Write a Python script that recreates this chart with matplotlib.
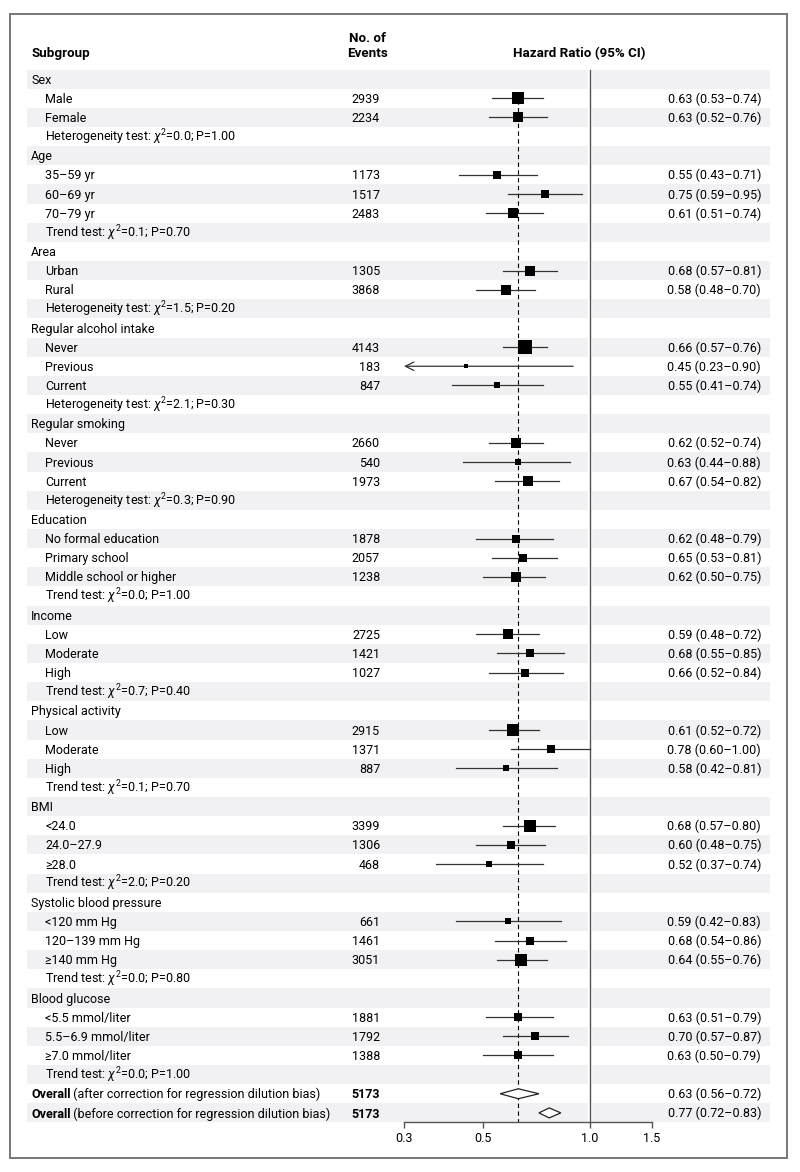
import numpy as np
import matplotlib
matplotlib.use("Agg")
import matplotlib.pyplot as plt
from matplotlib.patches import Rectangle, Polygon

FONT = 'Roboto'
plt.rcParams['font.family'] = [FONT, 'DejaVu Sans']
plt.rcParams['mathtext.fontset'] = 'custom'
plt.rcParams['mathtext.rm'] = FONT
plt.rcParams['mathtext.it'] = FONT + ':italic'
plt.rcParams['mathtext.bf'] = FONT + ':bold'

# ---- data ----
group_names = ['Sex', 'Age', 'Area', 'Regular alcohol intake', 'Regular smoking',
               'Education', 'Income', 'Physical activity', 'BMI',
               'Systolic blood pressure', 'Blood glucose']
sub_labels = [
    ['Male', 'Female'],
    ['35\u201359 yr', '60\u201369 yr', '70\u201379 yr'],
    ['Urban', 'Rural'],
    ['Never', 'Previous', 'Current'],
    ['Never', 'Previous', 'Current'],
    ['No formal education', 'Primary school', 'Middle school or higher'],
    ['Low', 'Moderate', 'High'],
    ['Low', 'Moderate', 'High'],
    ['<24.0', '24.0\u201327.9', '\u226528.0'],
    ['<120 mm Hg', '120\u2013139 mm Hg', '\u2265140 mm Hg'],
    ['<5.5 mmol/liter', '5.5\u20136.9 mmol/liter', '\u22657.0 mmol/liter'],
]
events = [
    [2939, 2234], [1173, 1517, 2483], [1305, 3868], [4143, 183, 847],
    [2660, 540, 1973], [1878, 2057, 1238], [2725, 1421, 1027],
    [2915, 1371, 887], [3399, 1306, 468], [661, 1461, 3051], [1881, 1792, 1388],
]
hr = [
    [0.63, 0.63], [0.55, 0.75, 0.61], [0.68, 0.58], [0.66, 0.45, 0.55],
    [0.62, 0.63, 0.67], [0.62, 0.65, 0.62], [0.59, 0.68, 0.66],
    [0.61, 0.78, 0.58], [0.68, 0.60, 0.52], [0.59, 0.68, 0.64], [0.63, 0.70, 0.63],
]
ci_lo = [
    [0.53, 0.52], [0.43, 0.59, 0.51], [0.57, 0.48], [0.57, 0.23, 0.41],
    [0.52, 0.44, 0.54], [0.48, 0.53, 0.50], [0.48, 0.55, 0.52],
    [0.52, 0.60, 0.42], [0.57, 0.48, 0.37], [0.42, 0.54, 0.55], [0.51, 0.57, 0.50],
]
ci_hi = [
    [0.74, 0.76], [0.71, 0.95, 0.74], [0.81, 0.70], [0.76, 0.90, 0.74],
    [0.74, 0.88, 0.82], [0.79, 0.81, 0.75], [0.72, 0.85, 0.84],
    [0.72, 1.00, 0.81], [0.80, 0.75, 0.74], [0.83, 0.86, 0.76], [0.79, 0.87, 0.79],
]
tests = [
    'Heterogeneity test: $\\chi^2$=0.0; P=1.00',
    'Trend test: $\\chi^2$=0.1; P=0.70',
    'Heterogeneity test: $\\chi^2$=1.5; P=0.20',
    'Heterogeneity test: $\\chi^2$=2.1; P=0.30',
    'Heterogeneity test: $\\chi^2$=0.3; P=0.90',
    'Trend test: $\\chi^2$=0.0; P=1.00',
    'Trend test: $\\chi^2$=0.7; P=0.40',
    'Trend test: $\\chi^2$=0.1; P=0.70',
    'Trend test: $\\chi^2$=2.0; P=0.20',
    'Trend test: $\\chi^2$=0.0; P=0.80',
    'Trend test: $\\chi^2$=0.0; P=1.00',
]
overall_notes = ['(after correction for regression dilution bias)',
                 '(before correction for regression dilution bias)']
overall_events = [5173, 5173]
overall_hr = [0.63, 0.77]
overall_lo = [0.56, 0.72]
overall_hi = [0.72, 0.83]
xticks = [0.3, 0.5, 1.0, 1.5]

# ---- build rows ----
rows = []  # (kind, label, n, hr, lo, hi)
for g, name in enumerate(group_names):
    rows.append(('group', name, None, None, None, None))
    for k, lab in enumerate(sub_labels[g]):
        rows.append(('item', lab, events[g][k], hr[g][k], ci_lo[g][k], ci_hi[g][k]))
    rows.append(('test', tests[g], None, None, None, None))
for k in range(2):
    rows.append(('overall', overall_notes[k], overall_events[k],
                 overall_hr[k], overall_lo[k], overall_hi[k]))
N = len(rows)

W, H = 800, 1172
TOP = 69.5
RH = 19.145
FS = 9.0
BAND = '#f1f1f3'
LINE = '#333333'

fig = plt.figure(figsize=(W / 100, H / 100), dpi=100)
bg = fig.add_axes([0, 0, 1, 1])
bg.set_xlim(0, W)
bg.set_ylim(H, 0)
bg.axis('off')

def row_y(i):
    return TOP + (i + 0.5) * RH

# frame
bg.add_patch(Rectangle((10, 14), 777, 1144, fill=False, ec='#777777', lw=1.4))

# header
HFS = FS + 0.6
bg.text(31, 57, 'Subgroup', fontsize=HFS, fontweight='bold', va='baseline')
bg.text(367, 42, 'No. of', fontsize=HFS, fontweight='bold', va='baseline', ha='center')
bg.text(367, 57, 'Events', fontsize=HFS, fontweight='bold', va='baseline', ha='center')
bg.text(579, 57, 'Hazard Ratio (95% CI)', fontsize=HFS, fontweight='bold',
        va='baseline', ha='center')

for i, (kind, lab, n, h, lo, hi) in enumerate(rows):
    y = row_y(i)
    if i % 2 == 0:
        bg.add_patch(Rectangle((27, y - RH / 2), 743, RH, fc=BAND, ec='none', zorder=0))
    yb = y + 4.6
    if kind == 'group':
        bg.text(31, yb, lab, fontsize=FS, va='baseline')
    elif kind in ('item', 'test'):
        bg.text(45, yb, lab, fontsize=FS, va='baseline')
    else:
        t = bg.text(31, yb, 'Overall', fontsize=FS, fontweight='bold', va='baseline')
        bg.annotate(' ' + lab, xy=(1, 0), xycoords=t, fontsize=FS, va='bottom', ha='left')
    if n is not None:
        bg.text(380, yb, str(n), fontsize=FS, va='baseline', ha='right',
                fontweight='bold' if kind == 'overall' else 'normal')
        bg.text(761, yb, '%.2f (%.2f\u2013%.2f)' % (h, lo, hi), fontsize=FS,
                va='baseline', ha='right')

# ---- forest axes ----
x0, x1 = 404, 652
y_bot = TOP + N * RH
ax = fig.add_axes([x0 / W, 1 - y_bot / H, (x1 - x0) / W, N * RH / H])
ax.set_facecolor('none')
ax.set_xscale('log')
ax.set_xlim(0.3, 1.5)
ax.set_ylim(N - 0.5, -0.5)
for s in ('top', 'right', 'left'):
    ax.spines[s].set_visible(False)
ax.spines['bottom'].set_color('#555555')
ax.spines['bottom'].set_linewidth(1.0)
ax.set_yticks([])
ax.set_xticks(xticks)
ax.set_xticklabels(['%.1f' % v for v in xticks])
ax.xaxis.set_minor_locator(matplotlib.ticker.NullLocator())
ax.tick_params(axis='x', length=4, width=1.0, color='#555555', pad=3, labelsize=FS)

# reference lines
ax.plot([1.0, 1.0], [-0.5, N - 0.5], color='white', lw=3.2, zorder=1, clip_on=False)
ax.plot([1.0, 1.0], [-0.5, N - 0.5], color='#555555', lw=1.0, zorder=2, clip_on=False)
ax.plot([overall_hr[0]] * 2, [0.65, N - 0.5], color='black', lw=0.8,
        linestyle=(0, (4, 3)), zorder=2)

for i, (kind, lab, n, h, lo, hi) in enumerate(rows):
    if h is None:
        continue
    if kind == 'overall':
        dh = 0.26
        ax.add_patch(Polygon([(lo, i), (h, i - dh), (hi, i), (h, i + dh)],
                             closed=True, fc='white', ec='#222222', lw=0.9, zorder=3))
        continue
    if lo < 0.3:
        ax.annotate('', xy=(0.3, i), xytext=(hi, i),
                    arrowprops=dict(arrowstyle='->,head_length=0.6,head_width=0.3',
                                    color=LINE, lw=0.9, shrinkA=0, shrinkB=0), zorder=3)
    else:
        ax.plot([lo, hi], [i, i], color=LINE, lw=0.9, zorder=3)
    side = max(3.4, 3.8 / np.log(hi / lo))
    ax.plot([h], [i], marker='s', color='black', markersize=side * 0.72,
            markeredgewidth=0, zorder=4)

fig.savefig('out.png', dpi=100)
